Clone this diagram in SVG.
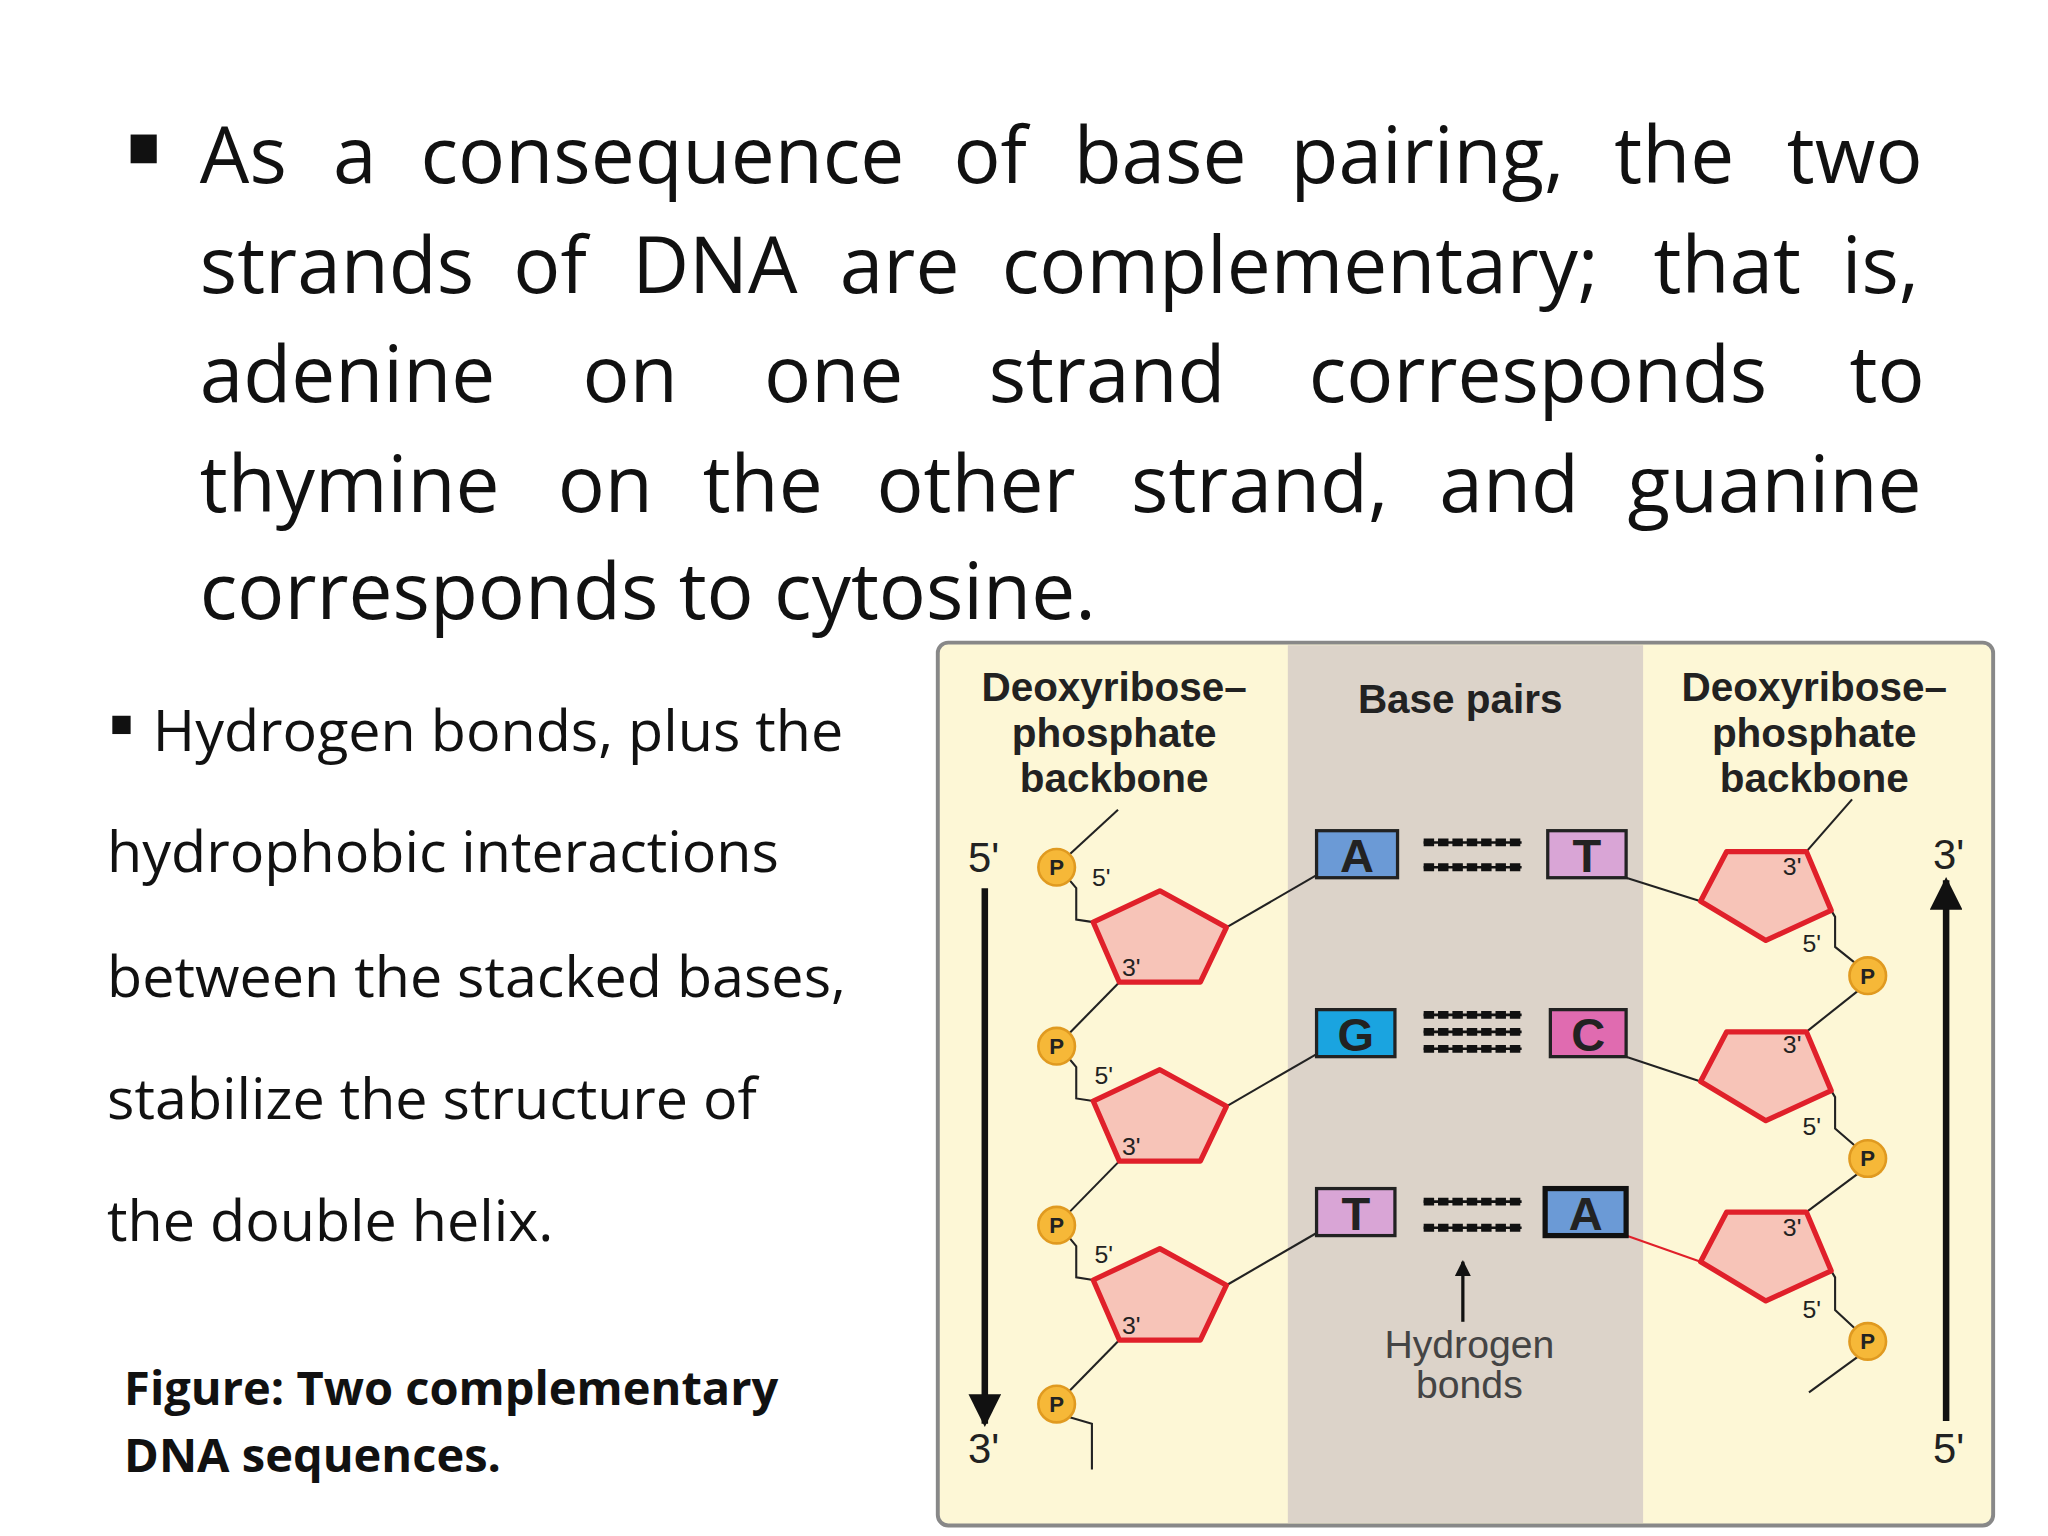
<svg xmlns="http://www.w3.org/2000/svg" width="2048" height="1536" viewBox="0 0 2048 1536">
<style>
.main{font-family:"Open Sans","Liberation Sans",sans-serif;font-size:60px;fill:#111}
.side{font-family:"Open Sans","Liberation Sans",sans-serif;font-size:44px;fill:#111}
.cap{font-family:"Open Sans","Liberation Sans",sans-serif;font-size:36px;font-weight:bold;fill:#111}
.hdr{font-family:"Liberation Sans",Arial,sans-serif;font-size:31px;font-weight:bold;fill:#222;text-anchor:middle}
.end{font-family:"Liberation Sans",Arial,sans-serif;font-size:32px;fill:#222;text-anchor:middle}
.sm{font-family:"Liberation Sans",Arial,sans-serif;font-size:19px;fill:#222}
.pt{font-family:"Liberation Sans",Arial,sans-serif;font-size:17px;font-weight:bold;fill:#222;text-anchor:middle}
.base{font-family:"Liberation Sans",Arial,sans-serif;font-size:36px;font-weight:bold;fill:#222;text-anchor:middle}
.pent{fill:#f7c4b8;stroke:#e0202a;stroke-width:4;stroke-linejoin:round}
.ln{fill:none;stroke:#222;stroke-width:1.6}
.p{fill:#f6b838;stroke:#e09a20;stroke-width:2}
.box{stroke:#222;stroke-width:2.5}
.hb{stroke:#111;stroke-width:6;stroke-dasharray:8 3}
.hl{stroke:#111;stroke-width:2}
</style>
<defs>
<marker id="ah" viewBox="0 0 10 10" refX="9" refY="5" markerWidth="5" markerHeight="5" orient="auto"><path d="M0,0 L10,5 L0,10 z" fill="#111"/></marker>
<path id="pu" class="pent" d="M0,-38 L51,-10 L31,32 L-31,32 L-51,-14 Z"/>
<path id="pd" class="pent" d="M-30,-30 L31,-30 L50,15 L0,38 L-50,8 Z"/>
<g id="P"><circle class="p" r="14"/><text class="pt" y="6">P</text></g>
</defs>
<rect width="2048" height="1536" fill="#fff"/>
<g transform="scale(1.30612)">
<g id="text">
<rect x="100" y="103" width="20" height="22" fill="#111"/>
<text class="main" y="140"><tspan x="153">As</tspan><tspan x="255">a</tspan><tspan x="322">consequence</tspan><tspan x="730">of</tspan><tspan x="822">base</tspan><tspan x="988">pairing,</tspan><tspan x="1236">the</tspan><tspan x="1368">two</tspan></text>
<text class="main" y="224"><tspan x="153">strands</tspan><tspan x="393">of</tspan><tspan x="484">DNA</tspan><tspan x="643">are</tspan><tspan x="767">complementary;</tspan><tspan x="1266">that</tspan><tspan x="1410">is,</tspan></text>
<text class="main" y="308"><tspan x="153">adenine</tspan><tspan x="446">on</tspan><tspan x="585">one</tspan><tspan x="757">strand</tspan><tspan x="1002">corresponds</tspan><tspan x="1416">to</tspan></text>
<text class="main" y="392"><tspan x="153">thymine</tspan><tspan x="427">on</tspan><tspan x="538">the</tspan><tspan x="671">other</tspan><tspan x="866">strand,</tspan><tspan x="1102">and</tspan><tspan x="1246">guanine</tspan></text>
<text class="main" x="153" y="474">corresponds to cytosine.</text>
<rect x="86" y="548" width="14" height="14" fill="#111"/>
<text class="side" x="117" y="575">Hydrogen bonds, plus the</text>
<text class="side" x="82" y="668">hydrophobic interactions</text>
<text class="side" x="82" y="763">between the stacked bases,</text>
<text class="side" x="82" y="857">stabilize the structure of</text>
<text class="side" x="82" y="950">the double helix.</text>
<text class="cap" x="95" y="1076">Figure: Two complementary</text>
<text class="cap" x="95" y="1127">DNA sequences.</text>
</g>
<g id="figure">
<rect x="718" y="492" width="808" height="676" rx="8" fill="#fdf7d6"/>
<rect x="986" y="494" width="272" height="672" fill="#dcd3c9"/>
<rect x="718" y="492" width="808" height="676" rx="8" fill="none" stroke="#888" stroke-width="3"/>
<text class="hdr" x="853" y="537">Deoxyribose–</text>
<text class="hdr" x="853" y="572">phosphate</text>
<text class="hdr" x="853" y="606">backbone</text>
<text class="hdr" x="1389" y="537">Deoxyribose–</text>
<text class="hdr" x="1389" y="572">phosphate</text>
<text class="hdr" x="1389" y="606">backbone</text>
<text class="hdr" x="1118" y="546">Base pairs</text>
<text class="end" x="753" y="668">5'</text>
<text class="end" x="753" y="1120">3'</text>
<text class="end" x="1492" y="665">3'</text>
<text class="end" x="1492" y="1120">5'</text>
</g>
<g id="connectors">
<line x1="754" y1="680" x2="754" y2="1090" stroke="#111" stroke-width="5" marker-end="url(#ah)"/>
<line x1="1490" y1="1088" x2="1490" y2="674" stroke="#111" stroke-width="5" marker-end="url(#ah)"/>
<line x1="1120" y1="1012" x2="1120" y2="966" stroke="#111" stroke-width="2.5" marker-end="url(#ah)"/>
<path class="ln" d="M856,620 L819,654"/>
<path class="ln" d="M1418,612 L1383,652"/>
<path class="ln" d="M819,674 L824,680 L824,704 L837,706"/>
<path class="ln" d="M857,752 L809,801"/>
<path class="ln" d="M819,811 L824,817 L824,841 L837,843"/>
<path class="ln" d="M857,889 L809,938"/>
<path class="ln" d="M819,948 L824,954 L824,978 L837,980"/>
<path class="ln" d="M857,1026 L809,1075"/>
<path class="ln" d="M819,1085 L836,1090 L836,1125"/>
<path class="ln" d="M939,710 L1008,670"/>
<path class="ln" d="M939,847 L1008,807"/>
<path class="ln" d="M939,984 L1008,944"/>
<path class="ln" d="M1245,672 L1302,690"/>
<path class="ln" d="M1245,809 L1302,828"/>
<path d="M1245,946 L1302,966" fill="none" stroke="#e0202a" stroke-width="1.6"/>
<path class="ln" d="M1402,697 L1405,702 L1405,725 L1420,737"/>
<path class="ln" d="M1422,759 L1383,790"/>
<path class="ln" d="M1402,835 L1405,840 L1405,864 L1420,877"/>
<path class="ln" d="M1422,899 L1383,928"/>
<path class="ln" d="M1402,973 L1405,978 L1405,1003 L1420,1017"/>
<path class="ln" d="M1422,1039 L1385,1066"/>
<g>
<line class="hl" x1="1090" y1="645" x2="1165" y2="645"/><line class="hb" x1="1090" y1="645" x2="1165" y2="645"/>
<line class="hl" x1="1090" y1="664" x2="1165" y2="664"/><line class="hb" x1="1090" y1="664" x2="1165" y2="664"/>
<line class="hl" x1="1090" y1="777" x2="1165" y2="777"/><line class="hb" x1="1090" y1="777" x2="1165" y2="777"/>
<line class="hl" x1="1090" y1="790" x2="1165" y2="790"/><line class="hb" x1="1090" y1="790" x2="1165" y2="790"/>
<line class="hl" x1="1090" y1="803" x2="1165" y2="803"/><line class="hb" x1="1090" y1="803" x2="1165" y2="803"/>
<line class="hl" x1="1090" y1="920" x2="1165" y2="920"/><line class="hb" x1="1090" y1="920" x2="1165" y2="920"/>
<line class="hl" x1="1090" y1="940" x2="1165" y2="940"/><line class="hb" x1="1090" y1="940" x2="1165" y2="940"/>
</g>
</g>
<g id="left-strand">
<use href="#P" x="809" y="664"/><use href="#P" x="809" y="801"/><use href="#P" x="809" y="938"/><use href="#P" x="809" y="1075"/>
<use href="#pu" x="888" y="720"/><use href="#pu" x="888" y="857"/><use href="#pu" x="888" y="994"/>
<text class="sm" x="836" y="678">5'</text><text class="sm" x="838" y="830">5'</text><text class="sm" x="838" y="967">5'</text>
<text class="sm" x="859" y="747">3'</text><text class="sm" x="859" y="884">3'</text><text class="sm" x="859" y="1021">3'</text>
</g>
<g id="right-strand">
<use href="#pd" x="1352" y="682"/><use href="#pd" x="1352" y="820"/><use href="#pd" x="1352" y="958"/>
<use href="#P" x="1430" y="747"/><use href="#P" x="1430" y="887"/><use href="#P" x="1430" y="1027"/>
<text class="sm" x="1365" y="670">3'</text><text class="sm" x="1365" y="806">3'</text><text class="sm" x="1365" y="946">3'</text>
<text class="sm" x="1380" y="729">5'</text><text class="sm" x="1380" y="869">5'</text><text class="sm" x="1380" y="1009">5'</text>
</g>
<g id="bases">
<rect class="box" x="1008" y="636" width="62" height="36" fill="#6b9ad6"/><text class="base" x="1039" y="668">A</text>
<rect class="box" x="1185" y="636" width="60" height="36" fill="#d9a5d6"/><text class="base" x="1215" y="668">T</text>
<rect class="box" x="1008" y="773" width="60" height="36" fill="#1aa4e0"/><text class="base" x="1038" y="805">G</text>
<rect class="box" x="1187" y="773" width="58" height="36" fill="#e06bb0"/><text class="base" x="1216" y="805">C</text>
<rect class="box" x="1008" y="910" width="60" height="36" fill="#d9a5d6"/><text class="base" x="1038" y="942">T</text>
<rect x="1183" y="910" width="62" height="36" fill="#6b9ad6" stroke="#111" stroke-width="4"/><text class="base" x="1214" y="942">A</text>
</g>
<g id="hlabel">
<text class="end" x="1125" y="1040" style="font-size:30px;fill:#444">Hydrogen</text>
<text class="end" x="1125" y="1070" style="font-size:30px;fill:#444">bonds</text>
</g>
</g>
</svg>
